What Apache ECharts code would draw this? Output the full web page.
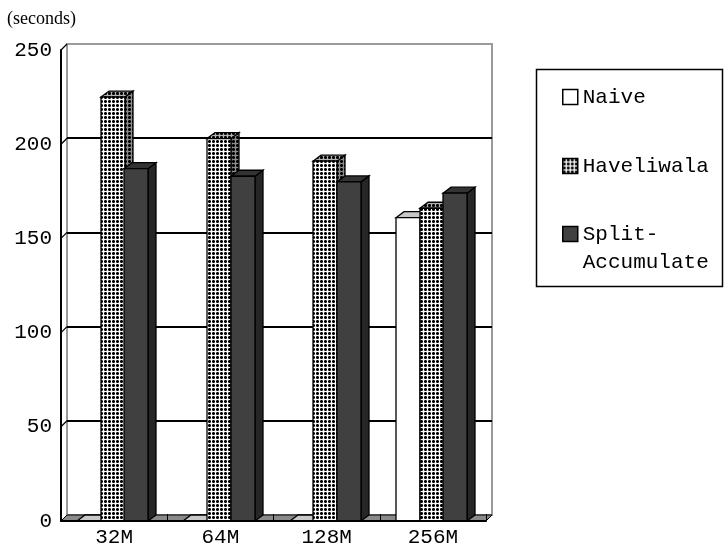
<!DOCTYPE html>
<html>
<head>
<meta charset="utf-8">
<script src="https://cdn.jsdelivr.net/npm/echarts@6/dist/echarts.min.js"></script>
<style>
  html, body { margin: 0; padding: 0; background: #fff; }
  #main { width: 725px; height: 552px; }
</style>
</head>
<body>
<div id="main"></div>
<script>
// run time in seconds per memory size
const categories = ['32M', '64M', '128M', '256M'];
const seriesNames = ['Naive', 'Haveliwala', 'Split-Accumulate'];
const naiveTimes = [0, 0, 0, 161];
const haveliwalaTimes = [225, 203, 191, 166];
const splitTimes = [187, 183, 180, 174];
const yTicks = [0, 50, 100, 150, 200, 250];

const FONT = '"Liberation Mono", "DejaVu Sans Mono", monospace';
const BAR_DX = 8, BAR_DY = -6;   // depth of a column
const WALL_DX = 6, WALL_DY = -6; // depth of the floor / back wall

function dotPattern(bg) {
  const c = document.createElement('canvas');
  c.width = 4; c.height = 4;
  const ctx = c.getContext('2d');
  ctx.fillStyle = bg;
  ctx.fillRect(0, 0, 4, 4);
  ctx.fillStyle = '#000';
  ctx.fillRect(0, 1, 3, 1);
  ctx.fillRect(1, 0, 1, 3);
  ctx.fillStyle = bg === '#fff' ? '#666' : '#3a3a3a';
  ctx.fillRect(0, 0, 1, 1); ctx.fillRect(2, 0, 1, 1);
  ctx.fillRect(0, 2, 1, 1); ctx.fillRect(2, 2, 1, 1);
  return { image: c, repeat: 'repeat' };
}

const barStyles = [
  { front: '#fff', side: '#fff', top: '#c8c8c8' },
  { front: dotPattern('#fff'), side: dotPattern('#8c8c8c'), top: dotPattern('#b4b4b4') },
  { front: '#404040', side: '#262626', top: '#333' }
];

function barRenderer(k) {
  return (params, api) => {
    const cat = api.value(0), val = api.value(1);
    const top = api.coord([cat, val]);
    const base = api.coord([cat, 0]);
    const band = api.size([1, 0])[0];
    const w = band * 0.222;
    const l = Math.round(top[0] - 1.5 * w + k * w - 1.5);
    const r = Math.round(l + w);
    const y0 = base[1], y1 = top[1];
    const st = barStyles[k];
    const line = { stroke: '#000', lineWidth: 1.3 };
    return {
      type: 'group',
      children: [
        { type: 'polygon', shape: { points: [[r, y1], [r + BAR_DX, y1 + BAR_DY], [r + BAR_DX, y0 + BAR_DY], [r, y0]] }, style: Object.assign({ fill: st.side }, line) },
        { type: 'polygon', shape: { points: [[l, y1], [l + BAR_DX, y1 + BAR_DY], [r + BAR_DX, y1 + BAR_DY], [r, y1]] }, style: Object.assign({ fill: st.top }, line) },
        { type: 'rect', shape: { x: l, y: y1, width: r - l, height: y0 - y1 }, style: Object.assign({ fill: st.front }, line) }
      ]
    };
  };
}

// floor and the slanted tick connectors between front axis and back wall
function frameRenderer(params, api) {
  const v = api.value(1);
  const band = api.size([1, 0])[0];
  const p = api.coord([0, v]);
  const x0 = p[0] - band / 2;
  const children = [];
  if (v === 0) {
    const x1 = api.coord([categories.length - 1, 0])[0] + band / 2;
    children.push({
      type: 'polygon',
      shape: { points: [[x0, p[1]], [x1, p[1]], [x1 + WALL_DX, p[1] + WALL_DY], [x0 + WALL_DX, p[1] + WALL_DY]] },
      style: { fill: '#8a8a8a', stroke: '#000', lineWidth: 1 }
    });
  } else {
    children.push({
      type: 'line',
      shape: { x1: x0, y1: p[1], x2: x0 + WALL_DX, y2: p[1] + WALL_DY },
      style: { stroke: '#000', lineWidth: 1.3 }
    });
  }
  return { type: 'group', children };
}

const seriesData = [naiveTimes, haveliwalaTimes, splitTimes];
const seriesColors = ['#fff', barStyles[1].front, '#404040'];

const chart = echarts.init(document.getElementById('main'));
chart.setOption({
  animation: false,
  backgroundColor: '#fff',
  grid: [
    { left: 61, right: 239, top: 50, bottom: 31 },
    { left: 67, right: 233, top: 44, bottom: 37, show: true, borderColor: '#9a9a9a', borderWidth: 2, backgroundColor: 'transparent' }
  ],
  xAxis: [
    {
      type: 'category', gridIndex: 0, data: categories, z: 5,
      axisLine: { lineStyle: { color: '#000', width: 2 } },
      axisTick: { show: true, inside: true, length: 7, lineStyle: { color: '#000', width: 1 } },
      axisLabel: { color: '#000', fontFamily: FONT, fontSize: 21, margin: 6 }
    },
    { type: 'category', gridIndex: 1, data: categories, show: false }
  ],
  yAxis: [
    {
      type: 'value', gridIndex: 0, min: 0, max: 250, interval: 50, z: 5,
      axisLine: { show: true, lineStyle: { color: '#000', width: 2 } },
      axisTick: { show: false },
      splitLine: { show: false },
      axisLabel: { color: '#000', fontFamily: FONT, fontSize: 21, margin: 9 }
    },
    {
      type: 'value', gridIndex: 1, min: 0, max: 250, interval: 50,
      axisLine: { show: false }, axisTick: { show: false }, axisLabel: { show: false },
      splitLine: { show: true, showMinLine: false, showMaxLine: false, lineStyle: { color: '#000', width: 2 } }
    }
  ],
  legend: seriesNames.map((name, i) => ({
    data: [name],
    left: 562,
    top: [83, 152, 192][i],
    padding: 0,
    icon: 'rect',
    itemWidth: 15,
    itemHeight: 15,
    selectedMode: false,
    itemStyle: { borderColor: '#000', borderWidth: 1.5 },
    textStyle: { fontFamily: FONT, fontSize: 21, color: '#000', lineHeight: 28 },
    formatter: n => n === 'Split-Accumulate' ? '\nSplit-\nAccumulate' : n
  })),
  graphic: [
    { type: 'rect', shape: { x: 536.5, y: 69.5, width: 186, height: 217 }, style: { fill: 'none', stroke: '#000', lineWidth: 1.5 } },
    { type: 'text', left: 7, top: 10, style: { text: '(seconds)', font: '18px "Liberation Serif", serif', fill: '#000' } }
  ],
  series: [
    {
      name: 'frame', type: 'custom', xAxisIndex: 0, yAxisIndex: 0, z: 1,
      data: yTicks.map(v => [0, v]),
      renderItem: frameRenderer, silent: true
    },
    ...seriesNames.map((name, k) => ({
      name,
      type: 'custom',
      xAxisIndex: 0, yAxisIndex: 0, z: 2,
      itemStyle: { color: seriesColors[k] },
      data: seriesData[k].map((v, i) => [i, v]),
      renderItem: barRenderer(k)
    }))
  ]
});
</script>
</body>
</html>
